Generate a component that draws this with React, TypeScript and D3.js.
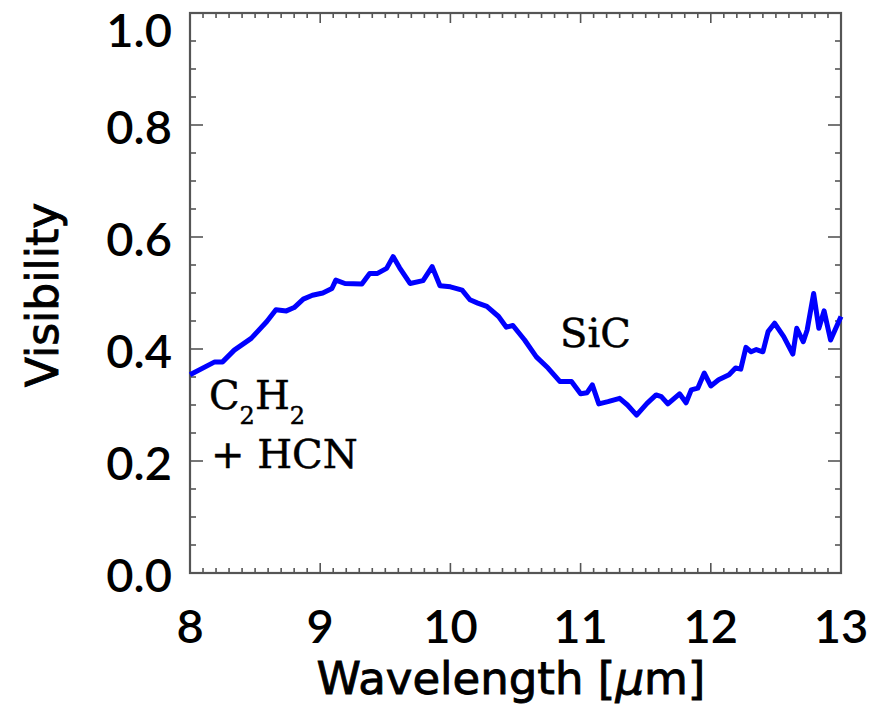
import React, { useEffect, useRef } from 'react';
import * as d3 from 'd3';

// wavelength in micron
const wavelength = [
  8.0, 8.19, 8.25, 8.34, 8.47, 8.59, 8.66, 8.74, 8.8, 8.87, 8.94, 9.02, 9.09, 9.12, 9.19,
  9.32, 9.38, 9.44, 9.51, 9.56, 9.61, 9.69, 9.79, 9.86, 9.92, 10.0, 10.09, 10.15, 10.21,
  10.28, 10.37, 10.43, 10.48, 10.57, 10.66, 10.75, 10.84, 10.93, 11.0, 11.05, 11.09, 11.14,
  11.21, 11.3, 11.36, 11.43, 11.51, 11.58, 11.62, 11.67, 11.76, 11.81, 11.85, 11.9, 11.95,
  12.0, 12.06, 12.14, 12.19, 12.23, 12.27, 12.31, 12.35, 12.4, 12.44, 12.49, 12.56, 12.63,
  12.66, 12.71, 12.74, 12.79, 12.83, 12.87, 12.92, 13.0,
];
const visibility = [
  0.354, 0.377, 0.377, 0.398, 0.419, 0.449, 0.47, 0.468, 0.474, 0.489, 0.496, 0.5, 0.508,
  0.523, 0.517, 0.516, 0.535, 0.535, 0.544, 0.565, 0.545, 0.517, 0.522, 0.547, 0.513, 0.511,
  0.505, 0.488, 0.482, 0.476, 0.458, 0.439, 0.442, 0.416, 0.386, 0.366, 0.342, 0.342, 0.32,
  0.322, 0.336, 0.302, 0.306, 0.312, 0.3, 0.282, 0.303, 0.318, 0.315, 0.302, 0.32, 0.304,
  0.327, 0.33, 0.357, 0.334, 0.345, 0.354, 0.366, 0.364, 0.403, 0.395, 0.399, 0.395, 0.431,
  0.446, 0.422, 0.391, 0.437, 0.413, 0.434, 0.499, 0.437, 0.468, 0.416, 0.458,
];

const xTicks = [8, 9, 10, 11, 12, 13];
const yTicks = [0, 0.2, 0.4, 0.6, 0.8, 1.0];

const App = () => {
  const svgRef = useRef<SVGSVGElement>(null);

  useEffect(() => {
    const width = 874;
    const height = 714;
    const margin = { top: 13, right: 33, bottom: 141, left: 190 };
    const w = width - margin.left - margin.right;
    const h = height - margin.top - margin.bottom;
    const axisColor = '#555';
    const tickFont = 'Lato, "DejaVu Sans", sans-serif';
    const titleFont = '"DejaVu Sans", sans-serif';
    const noteFont = '"DejaVu Serif", serif';

    d3.select(svgRef.current).selectAll('*').remove();

    const svg = d3.select(svgRef.current)
      .attr('width', width)
      .attr('height', height)
      .append('g')
      .attr('transform', `translate(${margin.left},${margin.top})`);

    const x = d3.scaleLinear().domain([8, 13]).range([0, w]);
    const y = d3.scaleLinear().domain([0, 1]).range([h, 0]);

    // minor ticks, IDL style: on all four sides, pointing inward
    const xMinor = d3.range(8, 13.0001, 0.1).map(v => +v.toFixed(2));
    const yMinor = d3.range(0, 1.0001, 0.05).map(v => +v.toFixed(2));
    const isMajor = (v: number, list: number[]) => list.some(t => Math.abs(t - v) < 1e-6);

    const ticks = svg.append('g')
      .attr('stroke', axisColor)
      .attr('stroke-width', 1.6);

    xMinor.forEach(v => {
      const len = isMajor(v, xTicks) ? 10 : 5;
      ticks.append('line')
        .attr('x1', x(v)).attr('x2', x(v))
        .attr('y1', h).attr('y2', h - len);
      ticks.append('line')
        .attr('x1', x(v)).attr('x2', x(v))
        .attr('y1', 0).attr('y2', len);
    });

    yMinor.forEach(v => {
      const len = isMajor(v, yTicks) ? 13 : 6;
      ticks.append('line')
        .attr('x1', 0).attr('x2', len)
        .attr('y1', y(v)).attr('y2', y(v));
      ticks.append('line')
        .attr('x1', w).attr('x2', w - len)
        .attr('y1', y(v)).attr('y2', y(v));
    });

    // frame
    svg.append('rect')
      .attr('x', 0).attr('y', 0)
      .attr('width', w).attr('height', h)
      .attr('fill', 'none')
      .attr('stroke', axisColor)
      .attr('stroke-width', 2.2);

    // the visibility curve
    const points: [number, number][] = wavelength.map((d, i) => [d, visibility[i]]);
    const line = d3.line<[number, number]>()
      .x(d => x(d[0]))
      .y(d => y(d[1]));

    svg.append('path')
      .datum(points)
      .attr('fill', 'none')
      .attr('stroke', '#0000ff')
      .attr('stroke-width', 5)
      .attr('stroke-linejoin', 'round')
      .attr('d', line);

    // tick labels
    svg.append('g')
      .selectAll('text')
      .data(xTicks)
      .join('text')
      .attr('x', d => x(d))
      .attr('y', h + 70)
      .attr('text-anchor', 'middle')
      .attr('font-family', tickFont)
      .attr('font-weight', 600)
      .attr('font-size', 47)
      .attr('fill', '#000')
      .text(d => d3.format('d')(d));

    // top label is pushed down so it stays inside the picture
    svg.append('g')
      .selectAll('text')
      .data(yTicks)
      .join('text')
      .attr('x', -18)
      .attr('y', d => Math.max(y(d) + 19, 34))
      .attr('text-anchor', 'end')
      .attr('font-family', tickFont)
      .attr('font-weight', 600)
      .attr('font-size', 47)
      .attr('fill', '#000')
      .text(d => d3.format('.1f')(d));

    // axis titles (a thin stroke makes them as heavy as the original)
    const xLabel = svg.append('text')
      .attr('x', 511 - margin.left)
      .attr('y', h + 121)
      .attr('text-anchor', 'middle')
      .attr('font-family', titleFont)
      .attr('font-size', 45)
      .attr('fill', '#000')
      .attr('stroke', '#000')
      .attr('stroke-width', 0.9);
    xLabel.append('tspan').text('Wavelength [');
    xLabel.append('tspan').attr('font-style', 'italic').text('μ');
    xLabel.append('tspan').text('m]');

    svg.append('text')
      .attr('transform', 'rotate(-90)')
      .attr('x', -(295 - margin.top))
      .attr('y', 58 - margin.left)
      .attr('text-anchor', 'middle')
      .attr('font-family', titleFont)
      .attr('font-size', 44)
      .attr('fill', '#000')
      .attr('stroke', '#000')
      .attr('stroke-width', 0.9)
      .text('Visibility');

    // annotations
    const c2h2 = svg.append('text')
      .attr('x', 209 - margin.left)
      .attr('y', 409 - margin.top)
      .attr('font-family', noteFont)
      .attr('font-size', 40)
      .attr('fill', '#000')
      .attr('stroke', '#000')
      .attr('stroke-width', 0.5);
    c2h2.append('tspan').text('C');
    c2h2.append('tspan').attr('font-size', 24).attr('dy', 15).text('2');
    c2h2.append('tspan').attr('dy', -15).text('H');
    c2h2.append('tspan').attr('font-size', 24).attr('dy', 15).text('2');

    svg.append('text')
      .attr('x', 211 - margin.left)
      .attr('y', 468 - margin.top)
      .attr('font-family', noteFont)
      .attr('font-size', 40)
      .attr('fill', '#000')
      .attr('stroke', '#000')
      .attr('stroke-width', 0.5)
      .text('+ HCN');

    svg.append('text')
      .attr('x', 560 - margin.left)
      .attr('y', 347 - margin.top)
      .attr('font-family', noteFont)
      .attr('font-size', 40)
      .attr('fill', '#000')
      .attr('stroke', '#000')
      .attr('stroke-width', 0.5)
      .text('SiC');
  }, []);

  return <svg ref={svgRef} style={{ position: 'absolute', left: 0, top: 0, background: '#fff' }} />;
};

export default App;
